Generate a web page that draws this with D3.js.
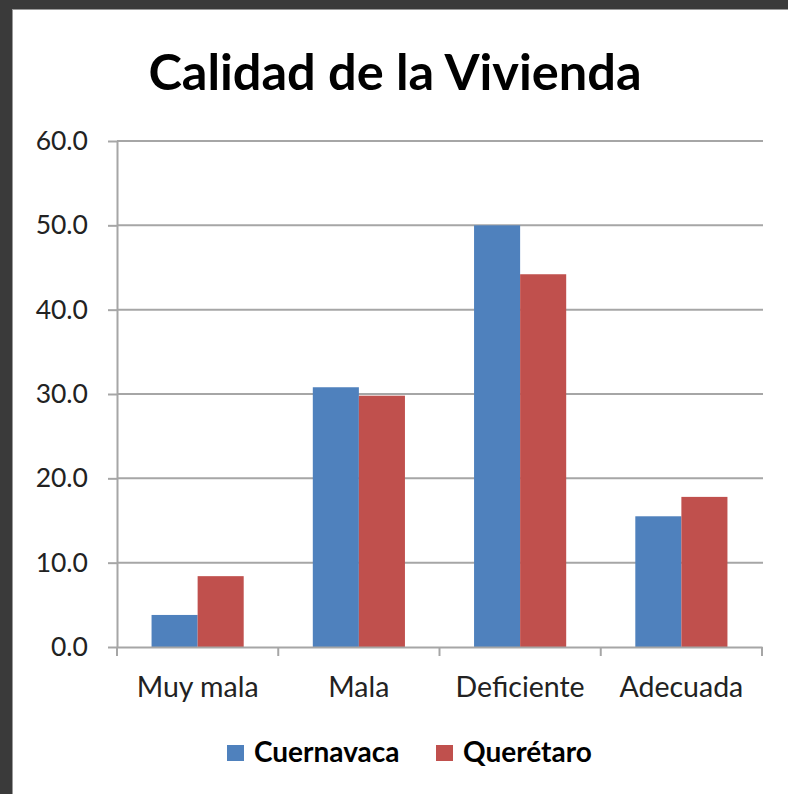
<!DOCTYPE html>
<html>
<head>
<meta charset="utf-8">
<script src="https://cdn.jsdelivr.net/npm/d3@7"></script>
<style>
  html,body{margin:0;padding:0;background:#3a3a3a;}
  svg{display:block;}
</style>
</head>
<body>
<svg id="chart"></svg>
<script>
// datos
const categorias = ['Muy mala','Mala','Deficiente','Adecuada'];
const series = ['Cuernavaca','Querétaro'];
const cuernavaca = [3.8, 30.8, 50.0, 15.5];
const queretaro = [8.4, 29.8, 44.2, 17.8];
const ticksY = [0,10,20,30,40,50,60];
const colores = ['#4F81BD','#C0504D'];

let width = 788, height = 794;
const fuente = 'Lato, "Open Sans", sans-serif';

const svg = d3.select('#chart').attr('width',width).attr('height',height);

// fondo oscuro y area blanca
svg.append('rect').attr('width',width).attr('height',height).attr('fill','#3a3a3a');
svg.append('rect').attr('x',12).attr('y',9).attr('width',width-12).attr('height',height-9).attr('fill','#9a9a9a');
svg.append('rect').attr('x',13).attr('y',10).attr('width',width-13).attr('height',height-10).attr('fill','#fff');

const x = d3.scaleBand().domain(categorias).range([117,762]).padding(0);
const xs = d3.scaleBand().domain(series).range([0,x.bandwidth()]).paddingInner(0).paddingOuter(0.75);
const y = d3.scaleLinear().domain([0,60]).range([647,141]);

// lineas de division
svg.append('g').selectAll('line').data(ticksY.filter(d=>d>0))
  .join('line')
    .attr('x1',117).attr('x2',763)
    .attr('y1',d=>y(d)).attr('y2',d=>y(d))
    .attr('stroke','#a6a6a6').attr('stroke-width',2);

// eje y
const ejeY = svg.append('g').attr('transform','translate(117,0)')
  .call(d3.axisLeft(y).tickValues(ticksY).tickFormat(d3.format('.1f')).tickSize(9).tickSizeOuter(0));
ejeY.select('.domain').attr('stroke','#a6a6a6').attr('stroke-width',2);
ejeY.selectAll('.tick line').attr('stroke','#a6a6a6').attr('stroke-width',2);
ejeY.selectAll('.tick text').attr('x',-29).attr('fill','#222')
  .style('font-family',fuente).style('font-size','26.5px');

// barras
const datos = categorias.map((c,i)=>({cat:c, valores:[cuernavaca[i],queretaro[i]]}));
svg.append('g').selectAll('g').data(datos)
  .join('g')
    .attr('transform',d=>`translate(${x(d.cat)},0)`)
  .selectAll('rect').data(d=>d.valores.map((v,j)=>({serie:series[j],v,j})))
  .join('rect')
    .attr('x',d=>xs(d.serie))
    .attr('width',xs.bandwidth())
    .attr('y',d=>y(d.v))
    .attr('height',d=>y(0)-y(d.v))
    .attr('fill',d=>colores[d.j]);

// eje x
const ejeX = svg.append('g').attr('transform','translate(0,647)')
  .call(d3.axisBottom(x).tickSize(0).tickSizeOuter(0));
ejeX.select('.domain').attr('stroke','#a6a6a6').attr('stroke-width',2);
ejeX.selectAll('.tick text').attr('y',50).attr('dy',0).attr('fill','#222')
  .style('font-family',fuente).style('font-size','28.5px');
// marcas entre categorias
ejeX.append('g').selectAll('line').data(categorias.concat(['fin']))
  .join('line')
    .attr('x1',(d,i)=>117+i*x.step()).attr('x2',(d,i)=>117+i*x.step())
    .attr('y1',0).attr('y2',9)
    .attr('stroke','#a6a6a6').attr('stroke-width',2);

// titulo
svg.append('text').attr('x',395).attr('y',90).attr('text-anchor','middle')
  .style('font-family',fuente).style('font-weight','bold').style('font-size','50.5px')
  .attr('fill','#000').text('Calidad de la Vivienda');

// leyenda
const posLeyenda = [227,436];
const ley = svg.append('g').selectAll('g').data(series)
  .join('g').attr('transform',(d,i)=>`translate(${posLeyenda[i]},745)`);
ley.append('rect').attr('width',17).attr('height',16).attr('fill',(d,i)=>colores[i]);
ley.append('text').attr('x',27).attr('y',17)
  .style('font-family',fuente).style('font-weight','bold').style('font-size','28px')
  .attr('fill','#000').text(d=>d);
</script>
</body>
</html>
